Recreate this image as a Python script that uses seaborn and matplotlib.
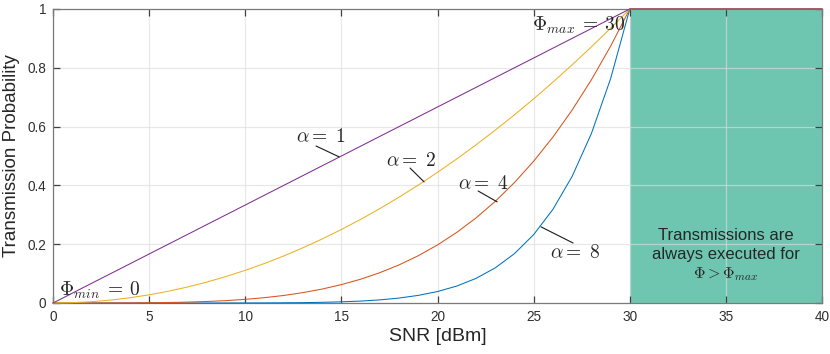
import matplotlib
matplotlib.use("Agg")
import matplotlib.pyplot as plt
import seaborn as sns
import pandas as pd

# ---- data ----
snr = [0, 1, 2, 3, 4, 5, 6, 7, 8, 9, 10, 11, 12, 13, 14, 15, 16, 17, 18, 19,
       20, 21, 22, 23, 24, 25, 26, 27, 28, 29, 30, 40]
p_alpha1 = [0, 0.0333, 0.0667, 0.1, 0.1333, 0.1667, 0.2, 0.2333, 0.2667, 0.3,
            0.3333, 0.3667, 0.4, 0.4333, 0.4667, 0.5, 0.5333, 0.5667, 0.6,
            0.6333, 0.6667, 0.7, 0.7333, 0.7667, 0.8, 0.8333, 0.8667, 0.9,
            0.9333, 0.9667, 1.0, 1.0]
p_alpha2 = [0, 0.0011, 0.0044, 0.01, 0.0178, 0.0278, 0.04, 0.0544, 0.0711,
            0.09, 0.1111, 0.1344, 0.16, 0.1878, 0.2178, 0.25, 0.2844, 0.3211,
            0.36, 0.4011, 0.4444, 0.49, 0.5378, 0.5878, 0.64, 0.6944, 0.7511,
            0.81, 0.8711, 0.9344, 1.0, 1.0]
p_alpha4 = [0, 0.0, 0.0, 0.0001, 0.0003, 0.0008, 0.0016, 0.003, 0.0051,
            0.0081, 0.0123, 0.0181, 0.0256, 0.0353, 0.0474, 0.0625, 0.0809,
            0.1031, 0.1296, 0.1609, 0.1975, 0.2401, 0.2892, 0.3455, 0.4096,
            0.4823, 0.5642, 0.6561, 0.7588, 0.8732, 1.0, 1.0]
p_alpha8 = [0, 0.0, 0.0, 0.0, 0.0, 0.0, 0.0, 0.0, 0.0, 0.0001, 0.0002, 0.0003,
            0.0007, 0.0012, 0.0023, 0.0039, 0.0065, 0.0106, 0.0168, 0.0259,
            0.039, 0.0576, 0.0836, 0.1194, 0.1678, 0.2326, 0.3183, 0.4305,
            0.5758, 0.7625, 1.0, 1.0]
alphas = [8, 4, 2, 1]
colors = {1: "#7E2F8E", 2: "#EDB120", 4: "#D95319", 8: "#0072BD"}
region_x = [30, 40]
region_y = [0, 1]
xticks = [0, 5, 10, 15, 20, 25, 30, 35, 40]
yticks = [0, 0.2, 0.4, 0.6, 0.8, 1]
ytick_labels = ["0", "0.2", "0.4", "0.6", "0.8", "1"]

series = {1: p_alpha1, 2: p_alpha2, 4: p_alpha4, 8: p_alpha8}
df = pd.concat([pd.DataFrame({"snr": snr, "p": series[a], "alpha": a}) for a in alphas],
               ignore_index=True)

sns.set_theme(style="white")
plt.rcParams["mathtext.fontset"] = "cm"
plt.rcParams["font.family"] = ["Liberation Sans", "DejaVu Sans"]

fig = plt.figure(figsize=(8.3, 3.54), dpi=100)
ax = fig.add_axes([0.0639, 0.1441, 0.9265, 0.8305])

ax.fill_between(region_x, region_y[0], region_y[1], color="#6EC6B1", lw=0, zorder=1)

sns.lineplot(data=df, x="snr", y="p", hue="alpha", hue_order=alphas,
             palette=colors, legend=False, lw=0.75, ax=ax, zorder=5, sort=False,
             estimator=None, clip_on=False)

ax.set_xlim(0, 40)
ax.set_ylim(0, 1)
ax.set_xticks(xticks)
ax.set_xticklabels([str(t) for t in xticks])
ax.set_yticks(yticks)
ax.set_yticklabels(ytick_labels)
ax.set_axisbelow(False)
ax.grid(True, color="#dcdcdc", lw=0.9, alpha=0.65, zorder=2)
for s in ax.spines.values():
    s.set_color("#7a7a7a")
    s.set_linewidth(0.9)
    s.set_zorder(4)
ax.tick_params(direction="in", length=5, width=0.9, color="#404040",
               labelsize=9.8, labelcolor="#303030", top=True, right=True,
               bottom=True, left=True, pad=5)
ax.set_xlabel("SNR [dBm]", fontsize=14, color="#262626", labelpad=3)
ax.set_ylabel("Transmission Probability", fontsize=13.5, color="#262626", labelpad=5)

fs = 14
# annotation labels and their leader lines (text anchor, line start, line end)
labels = [
    (r"$\alpha{=}\;1$", (13.9, 0.565), (13.68, 0.534), (14.88, 0.497)),
    (r"$\alpha{=}\;2$", (18.6, 0.483), (18.57, 0.459), (19.30, 0.412)),
    (r"$\alpha{=}\;4$", (22.37, 0.405), (22.11, 0.381), (23.10, 0.344)),
    (r"$\alpha{=}\;8$", (27.15, 0.170), (25.38, 0.259), (27.05, 0.204)),
]
for txt, tpos, p0, p1 in labels:
    ax.text(tpos[0], tpos[1], txt, ha="center", va="center", fontsize=fs, zorder=6)
    ax.plot([p0[0], p1[0]], [p0[1], p1[1]], color="#1a1a1a", lw=0.8, zorder=6)

ax.text(27.36, 0.946, r"$\Phi_{max}\:{=}\:30$", ha="center", va="center", fontsize=fs, zorder=6)
ax.text(2.42, 0.044, r"$\Phi_{min}\:{=}\:0$", ha="center", va="center", fontsize=fs, zorder=6)

ax.text(35, 0.228, "Transmissions are", ha="center", va="center", fontsize=12,
        color="#262626", zorder=6)
ax.text(35, 0.166, "always executed for", ha="center", va="center", fontsize=12,
        color="#262626", zorder=6)
ax.text(35, 0.098, r"$\Phi{>}\Phi_{max}$", ha="center", va="center", fontsize=11.5,
        color="#262626", zorder=6)

fig.savefig("out.png", dpi=100)
